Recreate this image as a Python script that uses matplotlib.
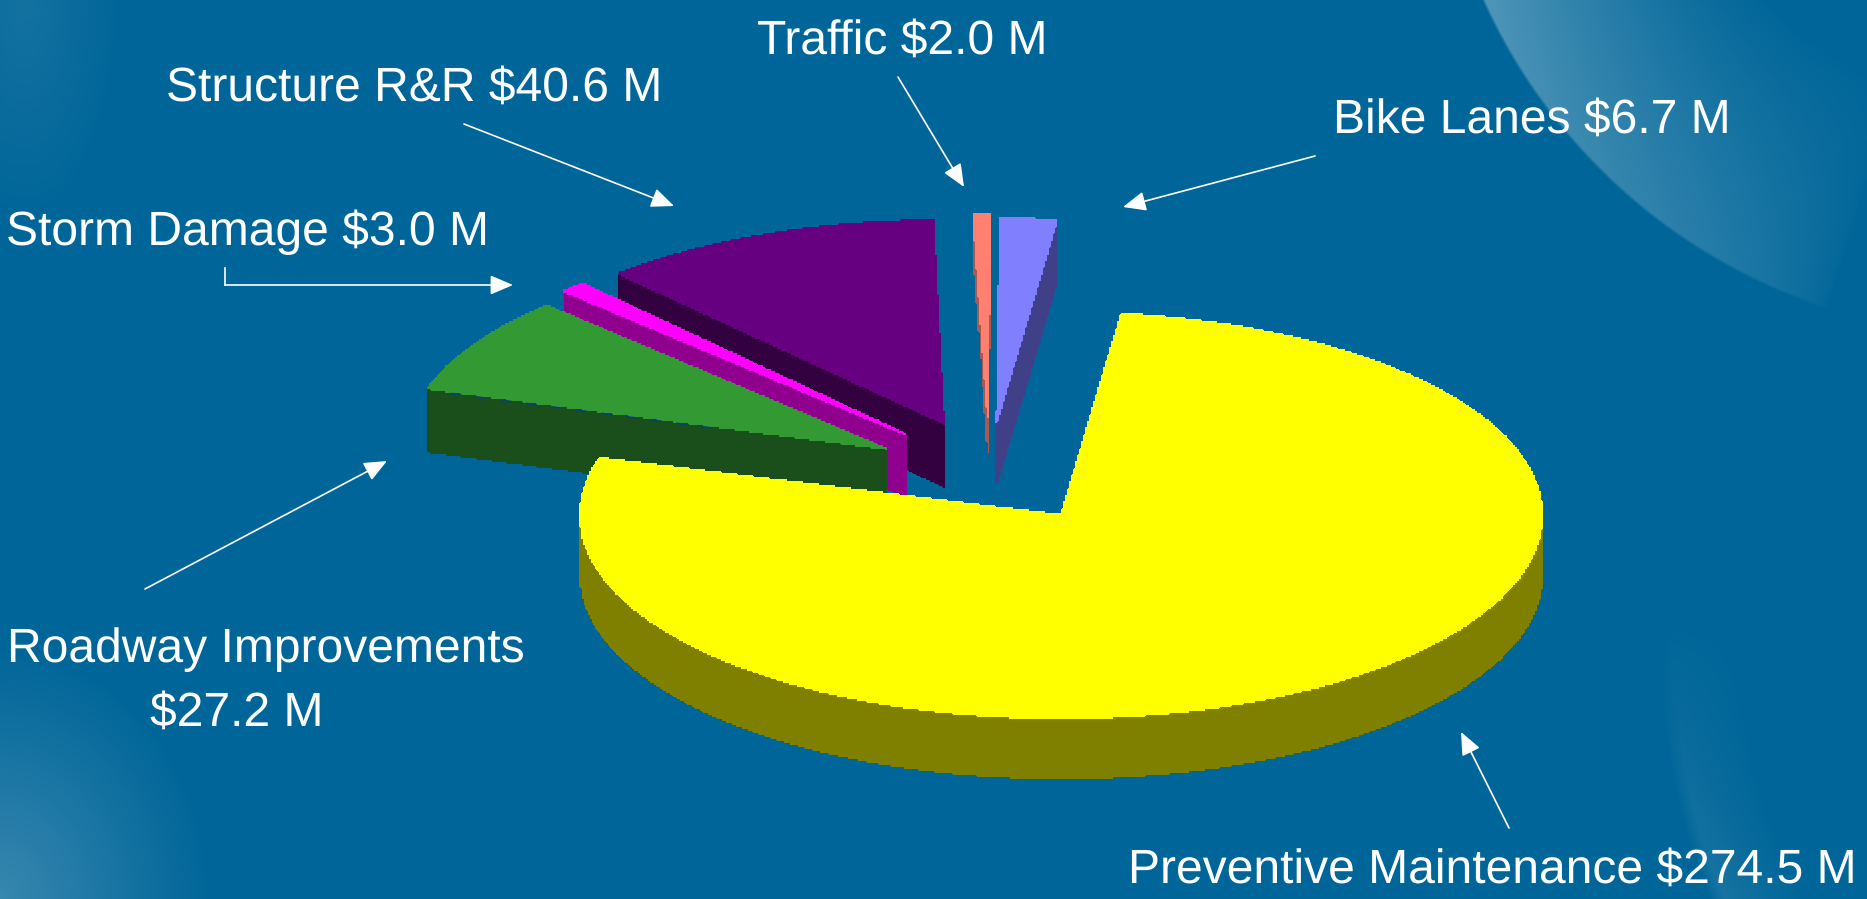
import numpy as np
import matplotlib
import matplotlib.pyplot as plt
from matplotlib.collections import PolyCollection
from matplotlib.patches import Polygon
matplotlib.use('Agg')
plt.rcParams['text.hinting'] = 'no_hinting'
plt.rcParams['text.hinting_factor'] = 1

# clockwise from the start angle, $ millions
categories = ['Preventive Maintenance', 'Roadway Improvements', 'Storm Damage',
              'Structure R&R', 'Traffic', 'Bike Lanes']
values = [274.5, 27.2, 3.0, 40.6, 2.0, 6.7]
explode = [0.267, 0.247, 0.25, 0.25, 0.257, 0.24]
# small corrections per slice, the source chart is not quite exact
angle_shift = [0.4, 1.4, 1.2, 0.8, 0.3, 0.4]
drop = [0, 4, 0, 0, 0, 0]

top_colors = ['#ffff00', '#339933', '#ff00ff', '#660080', '#ff8070', '#8080ff']
side_colors = ['#808000', '#1a4f1c', '#8f008f', '#330040', '#a85a50', '#404088']
depths = [60, 63, 62, 63, 34, 61]
# back to front
draw_order = [3, 5, 4, 2, 1, 0]

WIDTH = 1867
HEIGHT = 899
BG = np.array([0, 102, 153]) / 255
CX, CY = 990, 470
RX, RY = 481, 203
START = 6.8
# the source picture is a blown up low-res image, edges are stepped
PIXEL = 2.0


def background():
    yy, xx = np.mgrid[0:HEIGHT, 0:WIDTH] + 0.5
    alpha = np.zeros(xx.shape)

    # top right swoosh
    d = 570.6 - np.hypot(xx - 2002.6, yy + 233.6)
    ang = np.degrees(np.arctan2(yy + 233.6, xx - 2002.6))
    fade = np.clip((ang - 108) / 47, 0, 1) ** 0.6
    alpha += np.clip(d / 3, 0, 1) * 0.31 * np.clip(1 - d / 240, 0, 1) * fade

    # bottom right streak
    d = 684 - np.hypot(xx - 2344, yy - 643)
    fade = np.clip((yy - 620) / 270, 0, 1)
    alpha += np.clip(d / 14, 0, 1) * 0.11 * np.clip(1 - d / 85, 0, 1) * fade

    # corners
    r = np.hypot(xx / 210, (yy - HEIGHT) / 250)
    alpha += 0.22 * np.clip(1 - r, 0, 1)
    r = np.hypot((xx - 25) / 95, yy / 220)
    alpha += 0.08 * np.clip(1 - r, 0, 1)

    return BG + (1 - BG) * alpha[..., None]


def wedge_outline(a0, a1, e, shift, dy):
    # angles clockwise from the top of the ellipse
    mid = np.radians((a0 + a1) / 2)
    x0 = CX + e * RX * np.sin(mid)
    y0 = CY - e * RY * np.cos(mid) + dy
    t = np.radians(np.linspace(a0 + shift, a1 + shift, max(int(a1 - a0) * 3, 6)))
    xs = np.r_[x0, x0 + RX * np.sin(t), x0]
    ys = np.r_[y0, y0 - RY * np.cos(t), y0]
    return xs, ys


def stepped(xs, ys):
    # walk the outline about a pixel at a time and snap it to the coarse grid
    seg = np.hypot(np.diff(xs), np.diff(ys))
    dist = np.r_[0, np.cumsum(seg)]
    s = np.linspace(0, dist[-1], int(dist[-1]) + 2)
    px = np.round(np.interp(s, dist, xs) / PIXEL) * PIXEL
    py = np.round(np.interp(s, dist, ys) / PIXEL) * PIXEL
    return np.column_stack([px, py])


fig = plt.figure(figsize=(WIDTH / 100, HEIGHT / 100), dpi=100)
ax = fig.add_axes([0, 0, 1, 1])
ax.imshow(background(), extent=(0, WIDTH, HEIGHT, 0), aspect='auto', zorder=0)
ax.set_xlim(0, WIDTH)
ax.set_ylim(HEIGHT, 0)
ax.axis('off')

sweeps = np.array(values) / sum(values) * 360
starts = START + np.r_[0, np.cumsum(sweeps)[:-1]]

for z, i in enumerate(draw_order):
    xs, ys = wedge_outline(starts[i], starts[i] + sweeps[i], explode[i],
                           angle_shift[i], drop[i])
    pts = stepped(xs, ys)
    # walls first, the top face goes over them
    low = pts + [0, depths[i]]
    walls = [[pts[k], pts[k + 1], low[k + 1], low[k]] for k in range(len(pts) - 1)]
    ax.add_collection(PolyCollection(walls, facecolors=side_colors[i],
                                     edgecolors=side_colors[i], linewidths=0.6,
                                     antialiaseds=False, zorder=2 + z))
    ax.add_patch(Polygon(pts, closed=True, fc=top_colors[i], ec=top_colors[i],
                         lw=0.5, antialiased=False, zorder=2 + z))
    if categories[i] == 'Roadway Improvements':
        # dark dashes left on the front edge of this slice in the source image
        ax.plot([xs[1] + 0.05 * (xs[0] - xs[1]), xs[1] + 0.62 * (xs[0] - xs[1])],
                [ys[1] + 2 + 0.05 * (ys[0] - ys[1]), ys[1] + 2 + 0.62 * (ys[0] - ys[1])],
                color='#0d3f6e', lw=1.3, dashes=(6, 8), zorder=2 + z)

font = {'family': 'Liberation Sans', 'color': 'white', 'fontsize': 34.6,
        'va': 'baseline', 'zorder': 20}
ax.text(757, 54, 'Traffic $2.0 M', ha='left', **font)
ax.text(166, 101, 'Structure R&R $40.6 M', ha='left', **font)
ax.text(1333, 133, 'Bike Lanes $6.7 M', ha='left', **font)
ax.text(6, 245, 'Storm Damage $3.0 M', ha='left', **font)
ax.text(7, 662, 'Roadway Improvements', ha='left', **font)
ax.text(150, 726, '$27.2 M', ha='left', **font)
ax.text(1128, 883, 'Preventive Maintenance $274.5 M', ha='left', **font)

arrows = [((464, 124), (674, 206)),
          ((898, 77), (964, 187)),
          ((1315, 156), (1123, 207)),
          ((225, 285), (513, 285)),
          ((145, 589), (387, 461)),
          ((1509, 828), (1461, 732))]
for start, end in arrows:
    ax.annotate('', xy=end, xytext=start, zorder=20,
                arrowprops=dict(arrowstyle='-|>,head_length=0.7,head_width=0.3',
                                color='white', lw=1.2, mutation_scale=20,
                                shrinkA=0, shrinkB=0))
# elbow on the storm damage leader
ax.plot([225, 225], [268, 285], color='white', lw=1.2, zorder=20)

fig.savefig('out.png', dpi=100)
